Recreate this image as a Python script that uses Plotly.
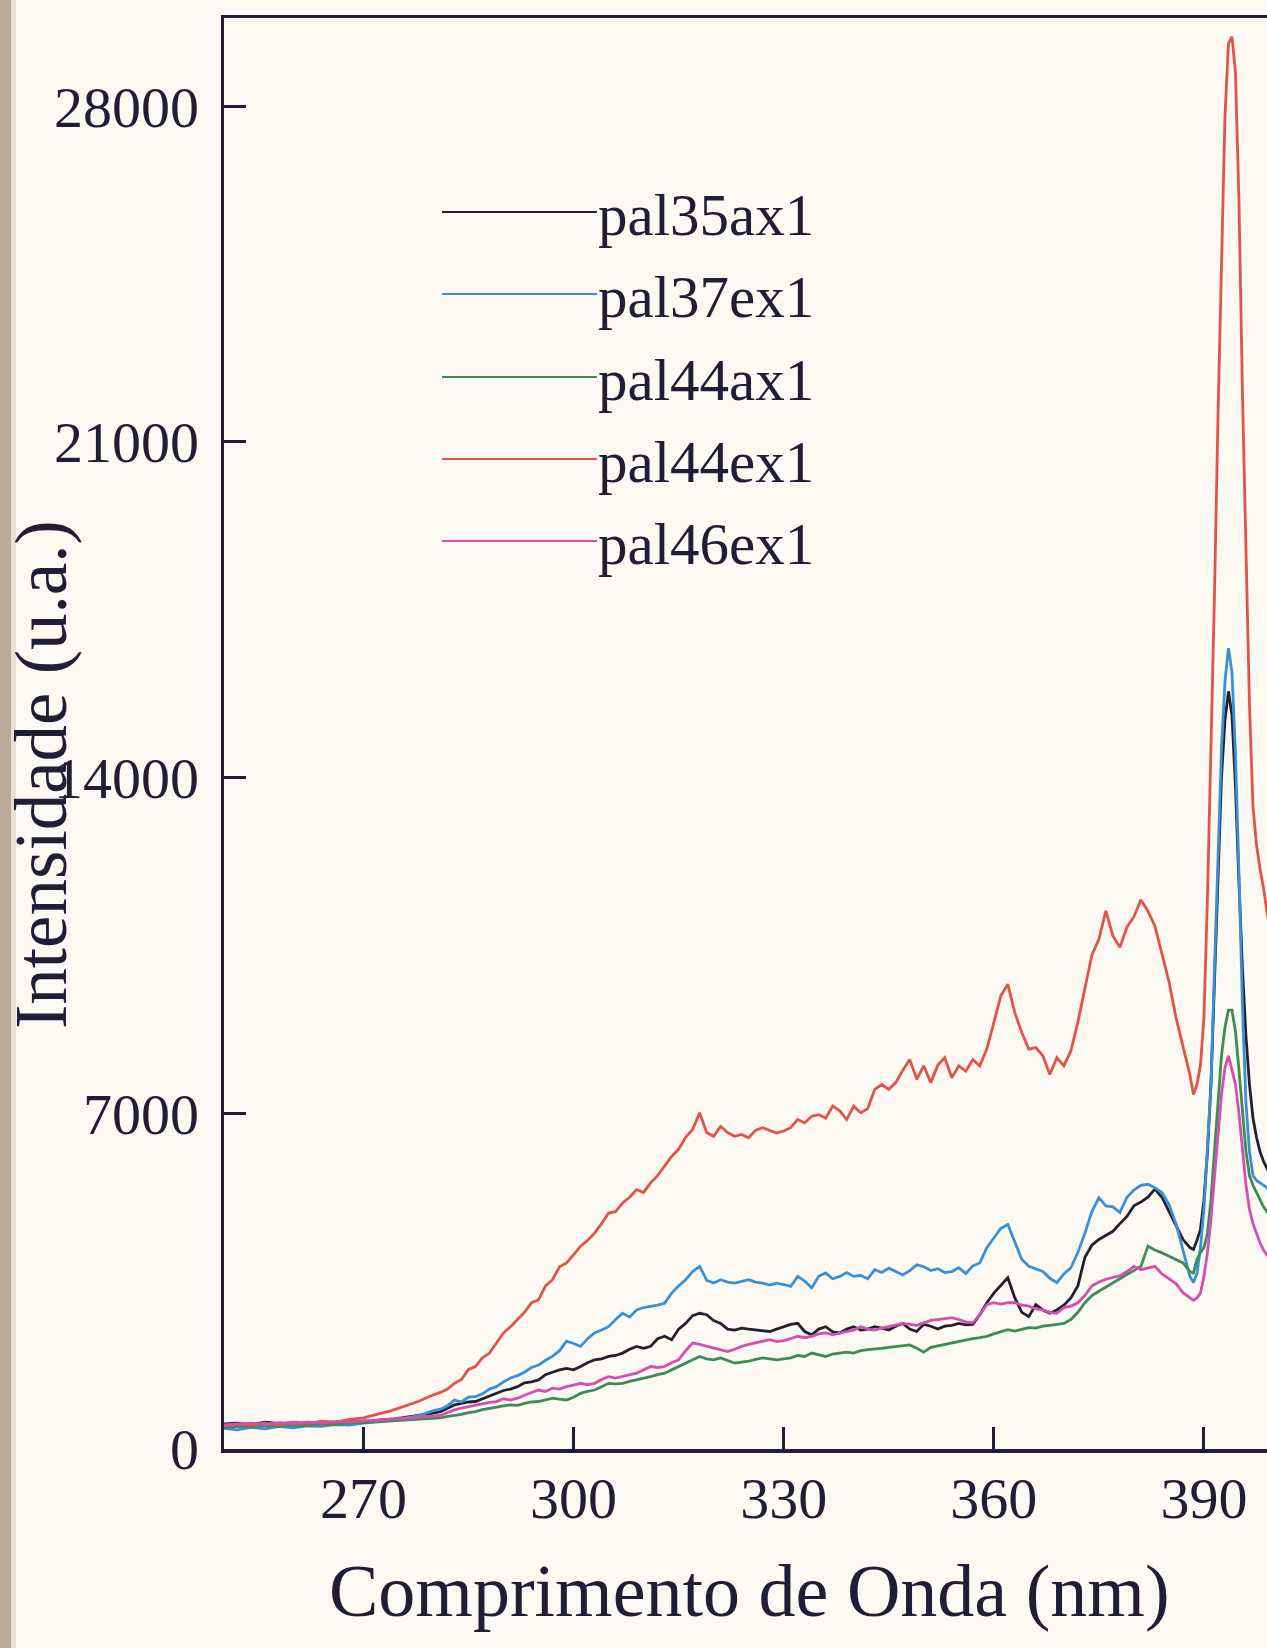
import plotly.graph_objects as go

# ---------------- data ----------------
wavelength = (list(range(250, 281, 2)) + list(range(281, 389)) +
              [388.5 + 0.5 * i for i in range(24)])

series_names = ["pal35ax1", "pal37ex1", "pal44ax1", "pal44ex1", "pal46ex1"]
series_colors = ["#22212f", "#3b90d4", "#3d8c55", "#e0554a", "#d44fb2"]

# pal35ax1 (black)
pal35ax1 = (
    [520, 540, 510, 560, 530, 550, 520, 560, 540, 580, 560, 600, 620, 660, 700, 750] +
    [780, 850, 920, 950, 980, 990, 1050, 1100, 1160, 1220, 1250, 1300, 1380, 1400, 1440, 1550, 1600, 1650, 1680, 1650,
     1720, 1800, 1860, 1880, 1930, 1950, 2000, 2080, 2140, 2100, 2140, 2300, 2350, 2280, 2500, 2620, 2780, 2830,
     2800, 2680, 2620, 2500, 2480, 2520, 2500, 2480, 2460, 2450, 2500, 2550, 2600, 2620, 2450, 2380, 2500, 2550,
     2440, 2420, 2500, 2550, 2480, 2500, 2550, 2520, 2480, 2560, 2620, 2500, 2450, 2600, 2560, 2500, 2560, 2580,
     2620, 2590, 2600, 2800, 3050, 3250, 3400, 3570, 3150, 2850, 2760, 3010, 2900, 2830, 2900, 3000, 3150, 3400,
     4000, 4250, 4370, 4450, 4540, 4700, 4850, 5070, 5150, 5250, 5420, 5250, 4950, 4650, 4370, 4200] +
    [4160, 4350, 4580, 5200, 6200, 7600, 9700, 12000, 14000, 15200, 15800, 15300, 13800, 11800, 10000, 8600,
     7600, 6900, 6500, 6200, 6000, 5850, 5700, 5600]
)

# pal37ex1 (blue)
pal37ex1 = (
    [430, 400, 450, 420, 470, 440, 480, 470, 510, 500, 540, 560, 590, 640, 700, 800] +
    [830, 900, 1020, 980, 1080, 1090, 1150, 1250, 1300, 1400, 1480, 1530, 1600, 1700, 1750, 1850, 1930, 2050, 2250, 2200,
     2140, 2300, 2420, 2480, 2550, 2700, 2830, 2750, 2900, 2950, 2970, 3000, 3040, 3250, 3400, 3530, 3700, 3810,
     3520, 3460, 3530, 3480, 3460, 3500, 3530, 3480, 3460, 3420, 3460, 3430, 3390, 3600, 3500, 3360, 3600, 3670,
     3550, 3600, 3680, 3600, 3620, 3550, 3740, 3680, 3770, 3700, 3630, 3720, 3840, 3800, 3720, 3760, 3680, 3700,
     3780, 3660, 3820, 3880, 4200, 4400, 4600, 4680, 4300, 3950, 3810, 3750, 3700, 3560, 3470, 3650, 3780, 4100,
     4500, 4950, 5240, 5070, 5050, 4930, 5250, 5400, 5500, 5520, 5450, 5350, 5100, 4700, 4150, 3600] +
    [3470, 3650, 4200, 5000, 6300, 7600, 10000, 12500, 14600, 16000, 16700, 16200, 14500, 12000, 9200, 7200,
     6200, 5700, 5600, 5550, 5500, 5450, 5350, 5300]
)

# pal44ax1 (green)
pal44ax1 = (
    [450, 470, 460, 490, 480, 500, 490, 520, 510, 540, 550, 570, 580, 600, 620, 640] +
    [650, 680, 700, 720, 760, 780, 820, 850, 885, 900, 920, 910, 950, 980, 990, 1020, 1060, 1040, 1020, 1080,
     1160, 1200, 1230, 1300, 1370, 1360, 1370, 1410, 1440, 1480, 1510, 1550, 1580, 1650, 1720, 1800, 1860, 1930,
     1880, 1860, 1900, 1850, 1790, 1810, 1830, 1870, 1900, 1880, 1860, 1880, 1900, 1950, 1930, 2000, 1960, 1930,
     1980, 2000, 2020, 2000, 2050, 2070, 2080, 2100, 2120, 2140, 2150, 2170, 2100, 2020, 2120, 2150, 2180, 2210,
     2250, 2270, 2300, 2320, 2350, 2400, 2450, 2490, 2460, 2500, 2530, 2520, 2560, 2580, 2600, 2620, 2700, 2850,
     3050, 3200, 3290, 3380, 3470, 3550, 3640, 3720, 3810, 4230, 4150, 4090, 4020, 3950, 3880, 3700] +
    [3670, 3950, 4100, 4200, 4500, 5200, 6200, 7300, 8200, 8800, 9150, 9150, 8700, 7900, 7000, 6200,
     5700, 5500, 5350, 5200, 5050, 4950, 4850, 4750]
)

# pal44ex1 (red)
pal44ex1 = (
    [480, 520, 500, 540, 510, 560, 530, 580, 560, 620, 650, 720, 800, 900, 1000, 1130] +
    [1180, 1250, 1370, 1450, 1660, 1720, 1900, 2000, 2200, 2420, 2550, 2700, 2850, 3050, 3110, 3400, 3530, 3800, 3880, 4050,
     4230, 4350, 4500, 4700, 4920, 4950, 5130, 5250, 5410, 5350, 5550, 5700, 5900, 6100, 6250, 6500, 6660, 7010,
     6600, 6520, 6730, 6600, 6520, 6560, 6490, 6650, 6700, 6640, 6590, 6630, 6700, 6870, 6800, 6940, 6970, 6900,
     7150, 7050, 6870, 7150, 7010, 7100, 7500, 7600, 7500, 7640, 7900, 8120, 7710, 7990, 7640, 8000, 8160, 7740,
     7990, 7880, 8120, 7990, 8340, 8890, 9450, 9690, 9100, 8680, 8340, 8370, 8200, 7810, 8160, 7990, 8300, 8900,
     9600, 10300, 10630, 11220, 10700, 10460, 10880, 11100, 11450, 11220, 10900, 10300, 9750, 9000, 8400, 7800] +
    [7390, 7600, 8000, 9000, 11500, 14500, 17800, 21500, 25000, 27800, 29300, 29450, 28700, 26000, 22000, 18500,
     15500, 13400, 12600, 12100, 11700, 11200, 10800, 10400]
)

# pal46ex1 (magenta)
pal46ex1 = (
    [500, 520, 540, 510, 550, 530, 560, 540, 570, 560, 590, 600, 620, 640, 660, 680] +
    [700, 760, 815, 850, 880, 920, 950, 970, 990, 1050, 1020, 1060, 1120, 1180, 1230, 1200, 1270, 1250, 1300, 1330,
     1370, 1340, 1370, 1450, 1510, 1480, 1510, 1550, 1580, 1650, 1720, 1700, 1720, 1800, 1860, 2050, 2210, 2180,
     2140, 2100, 2070, 2030, 2080, 2140, 2180, 2210, 2250, 2280, 2240, 2260, 2300, 2350, 2320, 2350, 2400, 2420,
     2380, 2420, 2450, 2480, 2550, 2500, 2480, 2520, 2550, 2580, 2620, 2600, 2580, 2630, 2680, 2700, 2720, 2740,
     2700, 2650, 2630, 2800, 3010, 3050, 3020, 3050, 3050, 3000, 2980, 2920, 2900, 2850, 2830, 2950, 2980, 3050,
     3200, 3400, 3480, 3540, 3580, 3610, 3700, 3810, 3740, 3780, 3810, 3650, 3550, 3450, 3260, 3150] +
    [3100, 3150, 3250, 3600, 4100, 4800, 5700, 6600, 7400, 7950, 8200, 7900, 7600, 7000, 6200, 5500,
     5000, 4700, 4500, 4300, 4150, 4050, 3950, 3850]
)

x_tickvals = [270, 300, 330, 360, 390]
y_tickvals = [0, 7000, 14000, 21000, 28000]
y_ticktext = ["0", "7000", "14000", "21000", "28000"]
x_title = "Comprimento de Onda (nm)"
y_title = "Intensidade (u.a.)"

series_values = [pal35ax1, pal37ex1, pal44ax1, pal44ex1, pal46ex1]
for s in series_values:
    assert len(s) == len(wavelength), (len(s), len(wavelength))

# ---------------- figure ----------------
W, H = 1267, 1648
ML, MR, MT, MB = 224, 0, 18, 199
PW, PH = W - ML - MR, H - MT - MB
FONT = "Liberation Serif, Times New Roman, serif"
INK = "#1f1e36"
PAPER = "#fcf9f2"


def px_x(p):
    return (p - ML) / PW


def px_y(p):
    return (H - MB - p) / PH


fig = go.Figure()
for name, color, vals in zip(series_names, series_colors, series_values):
    fig.add_trace(go.Scatter(x=wavelength, y=vals, mode="lines", name=name,
                             line=dict(color=color, width=2.8), showlegend=False,
                             hoverinfo="skip"))

shapes = []
annotations = []
# manual legend: long line segments ending at the labels
legend_rows = [212, 294, 377, 459, 541]
for name, color, ypx in zip(series_names, series_colors, legend_rows):
    shapes.append(dict(type="line", xref="paper", yref="paper",
                       x0=px_x(442), x1=px_x(597), y0=px_y(ypx), y1=px_y(ypx),
                       line=dict(color=color, width=2)))
    annotations.append(dict(xref="paper", yref="paper", x=px_x(596), y=px_y(ypx + 3),
                            text=name, showarrow=False, xanchor="left", yanchor="middle",
                            font=dict(family=FONT, size=59, color=INK)))

# axis titles
annotations.append(dict(xref="paper", yref="paper", x=px_x(749), y=px_y(1591),
                        text=x_title, showarrow=False, xanchor="center", yanchor="middle",
                        font=dict(family=FONT, size=74, color=INK)))
annotations.append(dict(xref="paper", yref="paper", x=px_x(42), y=px_y(775),
                        text=y_title, showarrow=False, textangle=-90,
                        xanchor="center", yanchor="middle",
                        font=dict(family=FONT, size=73, color=INK)))

# scanned-page edge strip on the left
shapes.append(dict(type="rect", xref="paper", yref="paper", layer="below",
                   x0=px_x(0), x1=px_x(11), y0=px_y(H), y1=px_y(0),
                   fillcolor="#baa898", line=dict(width=0)))
shapes.append(dict(type="rect", xref="paper", yref="paper", layer="below",
                   x0=px_x(11), x1=px_x(16), y0=px_y(H), y1=px_y(0),
                   fillcolor="#e9e0d4", line=dict(width=0)))

fig.update_layout(
    width=W, height=H,
    margin=dict(l=ML, r=MR, t=MT, b=MB, pad=0, autoexpand=False),
    paper_bgcolor=PAPER, plot_bgcolor=PAPER,
    font=dict(family=FONT, color=INK),
    shapes=shapes, annotations=annotations,
    showlegend=False, hovermode=False,
)
fig.update_xaxes(range=[250.1, 399], tickvals=x_tickvals, ticks="inside", ticklen=22,
                 tickwidth=3, tickcolor=INK, showline=True, linewidth=3.5, linecolor=INK,
                 mirror=True, showgrid=False, zeroline=False, automargin=False,
                 tickfont=dict(family=FONT, size=58, color=INK), ticklabelstandoff=-4)
fig.update_yaxes(range=[0, 29840], tickvals=y_tickvals, ticktext=y_ticktext,
                 ticks="inside", ticklen=22,
                 tickwidth=3, tickcolor=INK, showline=True, linewidth=3.5, linecolor=INK,
                 showgrid=False, zeroline=False, automargin=False,
                 tickfont=dict(family=FONT, size=58, color=INK), ticklabelstandoff=10)

fig.write_html("out.html",
               config={"displayModeBar": False, "staticPlot": True},
               post_script="document.body.style.margin='0px';"
                           "document.body.style.background='" + PAPER + "';")
